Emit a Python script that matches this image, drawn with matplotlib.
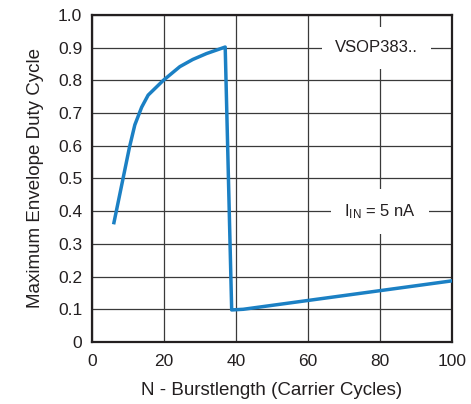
import matplotlib
matplotlib.use("Agg")
import matplotlib.pyplot as plt

# curve
burst_n = [6.1, 7.6, 9.0, 10.4, 11.9, 13.8, 15.6, 19.8, 24.4, 28.0, 31.8, 37.0, 38.8, 42.0, 100.0]
duty = [0.365, 0.445, 0.52, 0.595, 0.664, 0.718, 0.755, 0.80, 0.842, 0.864, 0.882, 0.902, 0.098, 0.1, 0.187]

x_ticks = [0, 20, 40, 60, 80, 100]
y_ticks = [0, 0.1, 0.2, 0.3, 0.4, 0.5, 0.6, 0.7, 0.8, 0.9, 1.0]
y_tick_labels = ["0", "0.1", "0.2", "0.3", "0.4", "0.5", "0.6", "0.7", "0.8", "0.9", "1.0"]

plt.rcParams['font.family'] = ['Liberation Sans', 'DejaVu Sans']
plt.rcParams['mathtext.fontset'] = 'custom'
plt.rcParams['mathtext.rm'] = 'Liberation Sans'
plt.rcParams['mathtext.it'] = 'Liberation Sans'

fig = plt.figure(figsize=(4.71, 4.04), dpi=100)
ax = fig.add_axes([0.1953, 0.1535, 0.7644, 0.8094])

ax.plot(burst_n, duty, color='#1b80c4', lw=2.5, solid_joinstyle='round', zorder=3)

ax.set_xlim(0, 100)
ax.set_ylim(0, 1.0)
ax.set_xticks(x_ticks)
ax.set_yticks(y_ticks)
ax.set_yticklabels(y_tick_labels)
ax.tick_params(length=0, labelsize=12.5, colors='#231f20')
ax.tick_params(axis='y', pad=7)
ax.tick_params(axis='x', pad=9)
ax.grid(True, color='#3a3a3a', lw=0.9)
ax.set_axisbelow(True)
for s in ax.spines.values():
    s.set_linewidth(1.6)
    s.set_color('#231f20')

ax.set_xlabel('N - Burstlength (Carrier Cycles)', fontsize=13.5, labelpad=9, color='#231f20')
ax.set_ylabel('Maximum Envelope Duty Cycle', fontsize=13.5, labelpad=10, color='#231f20')

box = dict(boxstyle='square,pad=0.8', fc='white', ec='none')
ax.text(79, 0.9, 'VSOP383..', ha='center', va='center', fontsize=12, color='#231f20', bbox=box, zorder=2)
ax.text(80, 0.4, r'$\mathrm{I}_{\mathrm{IN}}$ = 5 nA', ha='center', va='center', fontsize=12,
        color='#231f20', bbox=box, zorder=2)

fig.savefig('out.png', dpi=100)
